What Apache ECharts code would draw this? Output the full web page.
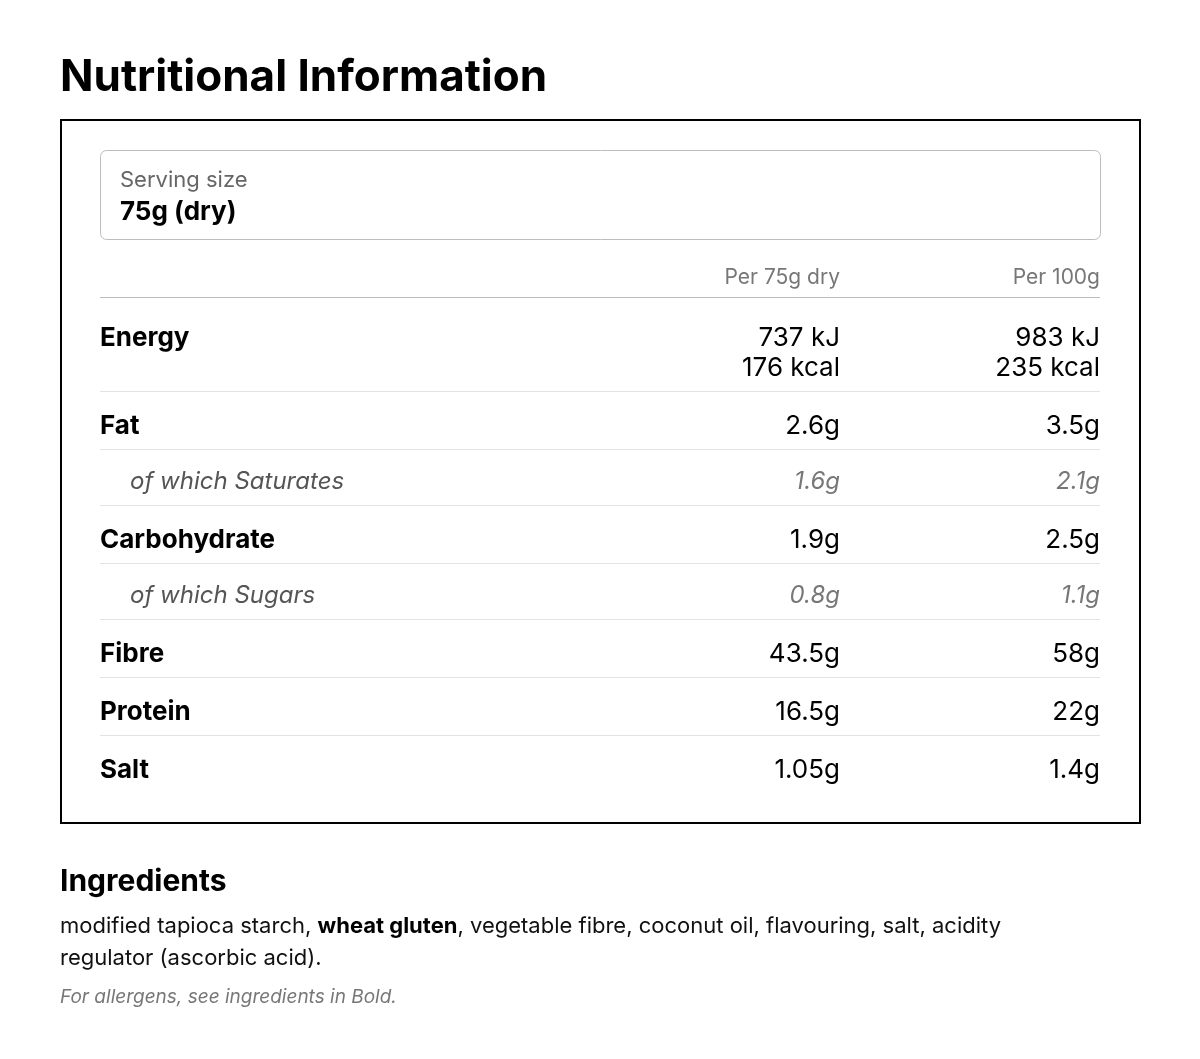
<!DOCTYPE html>
<html><head><meta charset="utf-8">
<script src="https://cdn.jsdelivr.net/npm/echarts@6/dist/echarts.min.js"></script>
<style>html,body{margin:0;padding:0;background:#fff}#c{width:1200px;height:1059px}</style>
</head><body><div id="c"></div>
<script>
const title = "Nutritional Information";
const servingLabel = "Serving size";
const servingValue = "75g (dry)";
const colHeaders = ["Per 75g dry", "Per 100g"];
const rowLabels = ["Energy", "Fat", "of which Saturates", "Carbohydrate", "of which Sugars", "Fibre", "Protein", "Salt"];
const rowSub = [false, false, true, false, true, false, false, false];
const perServing = ["737 kJ\n176 kcal", "2.6g", "1.6g", "1.9g", "0.8g", "43.5g", "16.5g", "1.05g"];
const per100g = ["983 kJ\n235 kcal", "3.5g", "2.1g", "2.5g", "1.1g", "58g", "22g", "1.4g"];
const ingredientsTitle = "Ingredients";
const ingredientsParts = [["modified tapioca starch, ", false], ["wheat gluten", true], [", vegetable fibre, coconut oil, flavouring, salt, acidity\nregulator (ascorbic acid).", false]];
const allergenNote = "For allergens, see ingredients in Bold.";

const F = "Inter, 'Noto Sans', sans-serif";
const g = [];
g.push({type:'text', left:60, top:56, style:{text:title, font:"bold 44px "+F, fill:'#000'}});
g.push({type:'rect', shape:{x:61,y:120,width:1079,height:703}, style:{fill:'none', stroke:'#000', lineWidth:2}});
g.push({type:'rect', shape:{x:100.5,y:150.5,width:1000,height:89,r:6}, style:{fill:'#fff', stroke:'#bdbdbd', lineWidth:1}});
g.push({type:'text', x:120, y:180, style:{text:servingLabel, font:"22px "+F, fill:'#666', verticalAlign:'middle'}});
g.push({type:'text', x:120, y:212, style:{text:servingValue, font:"bold 26px "+F, fill:'#000', verticalAlign:'middle'}});
const colX = [840, 1100];
colHeaders.forEach((h,i)=>g.push({type:'text', x:colX[i], y:278, style:{text:h, font:"21px "+F, fill:'#777', align:'right', verticalAlign:'middle'}}));
g.push({type:'line', shape:{x1:100,y1:297.5,x2:1100,y2:297.5}, style:{stroke:'#bbb', lineWidth:1}});
const rowY = [338, 426, 482, 540, 596, 654, 712, 770];
const sepY = [391, 449, 505, 563, 619, 677, 735];
rowLabels.forEach((lab,i)=>{
  const sub = rowSub[i];
  const font = sub ? "italic 24px "+F : "bold 26px "+F;
  const vfont = sub ? "italic 24px "+F : "26px "+F;
  const col = sub ? '#555' : '#000';
  const vcol = sub ? '#777' : '#000';
  g.push({type:'text', x: sub?130:100, y:rowY[i], style:{text:lab, font, fill:col, verticalAlign:'middle'}});
  [perServing[i], per100g[i]].forEach((v,j)=>g.push({type:'text', x:colX[j], y:rowY[i]-15, style:{text:v, font:vfont, fill:vcol, align:'right', verticalAlign:'top', lineHeight:30}}));
});
sepY.forEach(y=>g.push({type:'line', shape:{x1:100,y1:y+0.5,x2:1100,y2:y+0.5}, style:{stroke:'#e3e3e3', lineWidth:1}}));
g.push({type:'text', x:60, y:882, style:{text:ingredientsTitle, font:"bold 30px "+F, fill:'#000', verticalAlign:'middle'}});
const ingText = ingredientsParts.map(p=>p[1]?'{b|'+p[0]+'}':'{n|'+p[0].replace(/\n/g,'}\n{n|')+'}').join('');
g.push({type:'text', x:60, y:910, style:{text:ingText, verticalAlign:'top', rich:{
  n:{font:"22px "+F, fill:'#111', lineHeight:32},
  b:{font:"bold 22px "+F, fill:'#000', lineHeight:32}}}});
g.push({type:'text', x:60, y:997, style:{text:allergenNote, font:"italic 19px "+F, fill:'#777', verticalAlign:'middle'}});

const chart = echarts.init(document.getElementById('c'));
chart.setOption({animation:false, backgroundColor:'#fff', graphic:g});
</script></body></html>
